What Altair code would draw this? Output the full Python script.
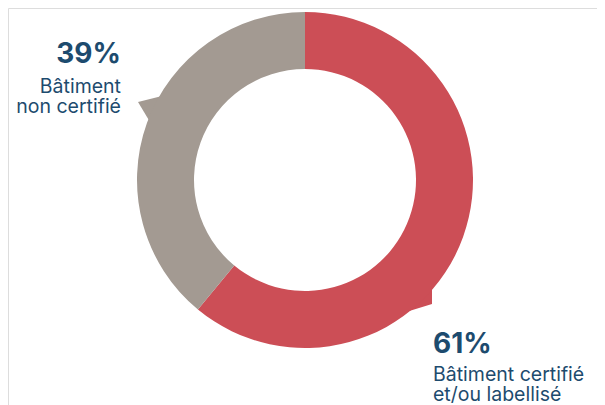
import altair as alt
import pandas as pd

categories = ["Bâtiment certifié et/ou labellisé", "Bâtiment non certifié"]
values = [61, 39]
colors = ["#CC4E56", "#A39A92"]
order = [1, 2]

pct_labels = ["61%", "39%"]

df = pd.DataFrame({"cat": categories, "value": values, "ord": order})

CX, CY = 297, 172
TEXT = "#1D4B6E"
FONT = "Inter"

arc = alt.Chart(df).mark_arc(outerRadius=168, innerRadius=111, strokeWidth=0).encode(
    theta=alt.Theta("value:Q", stack=True),
    order=alt.Order("ord:Q"),
    color=alt.Color("cat:N", scale=alt.Scale(domain=categories, range=colors), legend=None),
    x=alt.value(CX), y=alt.value(CY),
)

# label pointers
ptr_df = pd.DataFrame({"cat": categories})
ptr_red = alt.Chart(ptr_df.iloc[[0]]).mark_point(
    shape="M0.7,0.4L0.7,-1.5L-1.9,1.2Z", filled=True, size=400, opacity=1, color=colors[0], strokeWidth=0
).encode(x=alt.value(417), y=alt.value(292))
ptr_grey = alt.Chart(ptr_df.iloc[[1]]).mark_point(
    shape="M-1.2,-0.4L1.2,-1L0,1.6Z", filled=True, size=400, opacity=1, color=colors[1], strokeWidth=0
).encode(x=alt.value(142), y=alt.value(98))

def txt(text, x, y, align, size, weight):
    return alt.Chart(pd.DataFrame({"t": [text]})).mark_text(
        align=align, baseline="alphabetic", font=FONT, fontSize=size,
        fontWeight=weight, color=TEXT, lineBreak="\n", lineHeight=20
    ).encode(text="t:N", x=alt.value(x), y=alt.value(y))

left_lines = ["Bâtiment", "non certifié"]
right_lines = ["Bâtiment certifié", "et/ou labellisé"]

texts = [
    txt(pct_labels[1], 113, 55, "right", 28, "bold"),
    txt("\n".join(left_lines), 113, 85, "right", 19.5, "normal"),
    txt(pct_labels[0], 425, 345, "left", 28, "bold"),
    txt("\n".join(right_lines), 425, 373, "left", 19.5, "normal"),
]

chart = alt.layer(ptr_red, ptr_grey, arc, *texts).properties(
    width=589, height=397, padding=0, autosize=alt.AutoSizeParams(type="none")
).configure_view(strokeWidth=0).configure(background="white")

chart.save("out.html", embed_options={"renderer": "svg", "actions": False})
